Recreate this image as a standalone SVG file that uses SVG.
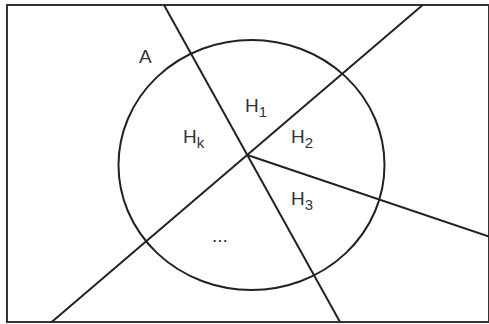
<svg xmlns="http://www.w3.org/2000/svg" width="489" height="324" viewBox="0 0 489 324">
<style>
.ln{stroke:#222;stroke-width:2;fill:none;stroke-linecap:butt}
.lb{font-family:"Liberation Sans",Arial,sans-serif;font-size:19px;fill:#333}
.sb{font-size:15px}
</style>
<rect x="0" y="0" width="489" height="324" fill="#fff"/>
<g id="frame"><rect x="7" y="5" width="482" height="317" fill="none" stroke="#333" stroke-width="2"/></g>
<g id="circle"><ellipse cx="251.5" cy="165" rx="133" ry="125" class="ln"/></g>
<g id="connectors">
<line x1="164" y1="5" x2="340" y2="322" class="ln"/>
<line x1="422.7" y1="5" x2="51.7" y2="322" class="ln"/>
<line x1="247.3" y1="155" x2="489" y2="236.5" class="ln"/>
</g>
<g id="labels">
<text class="lb" x="139" y="63">A</text>
<text class="lb" x="245" y="111.5">H<tspan class="sb" dy="5">1</tspan></text>
<text class="lb" x="183" y="142.5">H<tspan class="sb" dy="5">k</tspan></text>
<text class="lb" x="291" y="142.5">H<tspan class="sb" dy="5">2</tspan></text>
<text class="lb" x="291" y="205">H<tspan class="sb" dy="5">3</tspan></text>
<text class="lb" x="212" y="242">...</text>
</g>
</svg>
